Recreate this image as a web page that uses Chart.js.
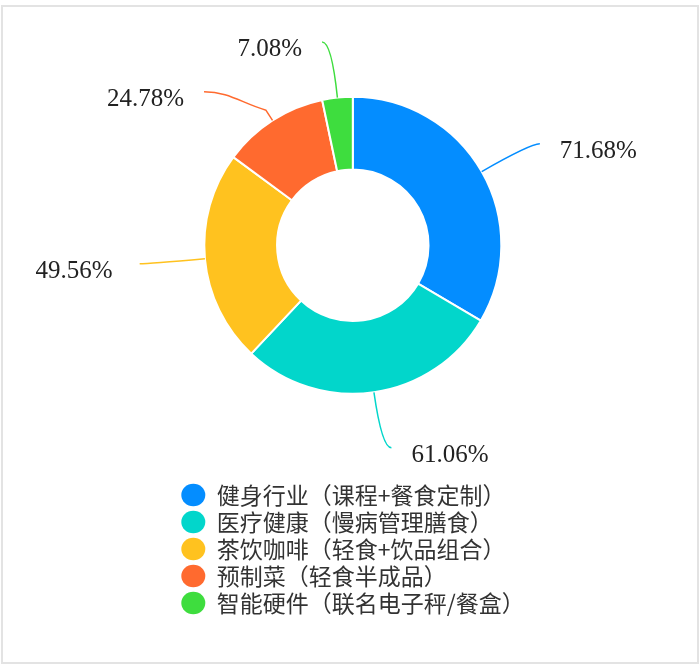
<!DOCTYPE html>
<html>
<head>
<meta charset="utf-8">
<script src="https://cdn.jsdelivr.net/npm/chart.js@4.4.1/dist/chart.umd.min.js"></script>
<style>
  html, body { margin: 0; padding: 0; background: #fff; }
  #wrap { position: relative; width: 700px; height: 670px; }
  #frame { position: absolute; left: 1px; top: 5px; width: 694px; height: 655px; border: 2px solid #e3e3e3; pointer-events: none; }
  canvas { position: absolute; left: 0; top: 0; }
</style>
</head>
<body>
<div id="wrap">
  <canvas id="c" width="700" height="670"></canvas>
  <div id="frame"></div>
</div>
<script>
const categories = [
  '健身行业（课程+餐食定制）',
  '医疗健康（慢病管理膳食）',
  '茶饮咖啡（轻食+饮品组合）',
  '预制菜（轻食半成品）',
  '智能硬件（联名电子秤/餐盒）'
];
const values = [71.68, 61.06, 49.56, 24.78, 7.08];
const colors = ['#048DFF', '#02D6CB', '#FFC21F', '#FF6A2F', '#3EDD3E'];

const leaderPlugin = {
  id: 'leaders',
  afterDatasetsDraw(chart, args, opts) {
    const meta = chart.getDatasetMeta(0);
    const ctx = chart.ctx;
    const ds = chart.data.datasets[0];
    meta.data.forEach((arc, i) => {
      const p = arc.getProps(['x', 'y', 'startAngle', 'endAngle', 'outerRadius'], true);
      const mid = (p.startAngle + p.endAngle) / 2;
      const ov = (opts.overrides && opts.overrides[i]) || {};
      const len1 = ov.len1 !== undefined ? ov.len1 : opts.len1;
      const len2 = ov.len2 !== undefined ? ov.len2 : opts.len2;
      const gap = ov.gap !== undefined ? ov.gap : opts.gap;
      const dy = ov.dy || 0;
      const c = Math.cos(mid), s = Math.sin(mid);
      const dir = c >= 0 ? 1 : -1;
      const p0 = { x: p.x + c * p.outerRadius, y: p.y + s * p.outerRadius };
      const p1 = { x: p.x + c * (p.outerRadius + len1), y: p.y + s * (p.outerRadius + len1) };
      const p2 = { x: p1.x + dir * len2, y: p1.y + dy };
      ctx.save();
      ctx.strokeStyle = ds.backgroundColor[i];
      ctx.lineWidth = opts.lineWidth;
      ctx.beginPath();
      ctx.moveTo(p0.x, p0.y);
      if (dy) {
        ctx.lineTo(p1.x, p1.y);
        ctx.bezierCurveTo(p1.x + (p2.x - p1.x) * 0.4, p1.y + (p2.y - p1.y) * 0.4,
                          p2.x - dir * len2 * 0.4, p2.y, p2.x, p2.y);
      } else {
        ctx.quadraticCurveTo(p1.x, p1.y, p2.x, p2.y);
      }
      ctx.stroke();
      ctx.fillStyle = opts.color;
      ctx.font = opts.font;
      ctx.textBaseline = 'middle';
      ctx.textAlign = dir > 0 ? 'left' : 'right';
      ctx.fillText(values[i].toFixed(2) + '%', p2.x + dir * gap, p2.y + opts.textDy);
      ctx.restore();
    });
  }
};

new Chart(document.getElementById('c'), {
  type: 'doughnut',
  data: {
    labels: categories,
    datasets: [{
      data: values,
      backgroundColor: colors,
      borderColor: '#ffffff',
      borderWidth: 2,
      radius: 148.5,
      hoverOffset: 0
    }]
  },
  options: {
    responsive: false,
    animation: false,
    devicePixelRatio: 1,
    cutout: '51%',
    layout: { padding: { left: 177.3, right: 171.7, top: 11.1, bottom: 45.5 } },
    plugins: {
      tooltip: { enabled: false },
      legend: {
        position: 'bottom',
        align: 'start',
        labels: {
          usePointStyle: true,
          pointStyle: 'circle',
          boxHeight: 16,
          pointStyleWidth: 24,
          padding: 4,
          color: '#333333',
          font: { family: '"Noto Sans CJK SC", "Noto Sans", sans-serif', size: 23 },
          generateLabels(chart) {
            const base = Chart.overrides.doughnut.plugins.legend.labels.generateLabels(chart);
            return base.map(l => Object.assign(l, { lineWidth: 0, strokeStyle: 'rgba(0,0,0,0)' }));
          }
        }
      },
      leaders: {
        len1: 56,
        len2: 9.5,
        gap: 20,
        textDy: 8,
        lineWidth: 1.5,
        color: '#222222',
        font: '25px "Liberation Serif", "Times New Roman", serif',
        overrides: { 2: { gap: 27 }, 3: { len1: 12, len2: 62, dy: -18.5 } }
      }
    }
  },
  plugins: [leaderPlugin]
});
</script>
</body>
</html>
